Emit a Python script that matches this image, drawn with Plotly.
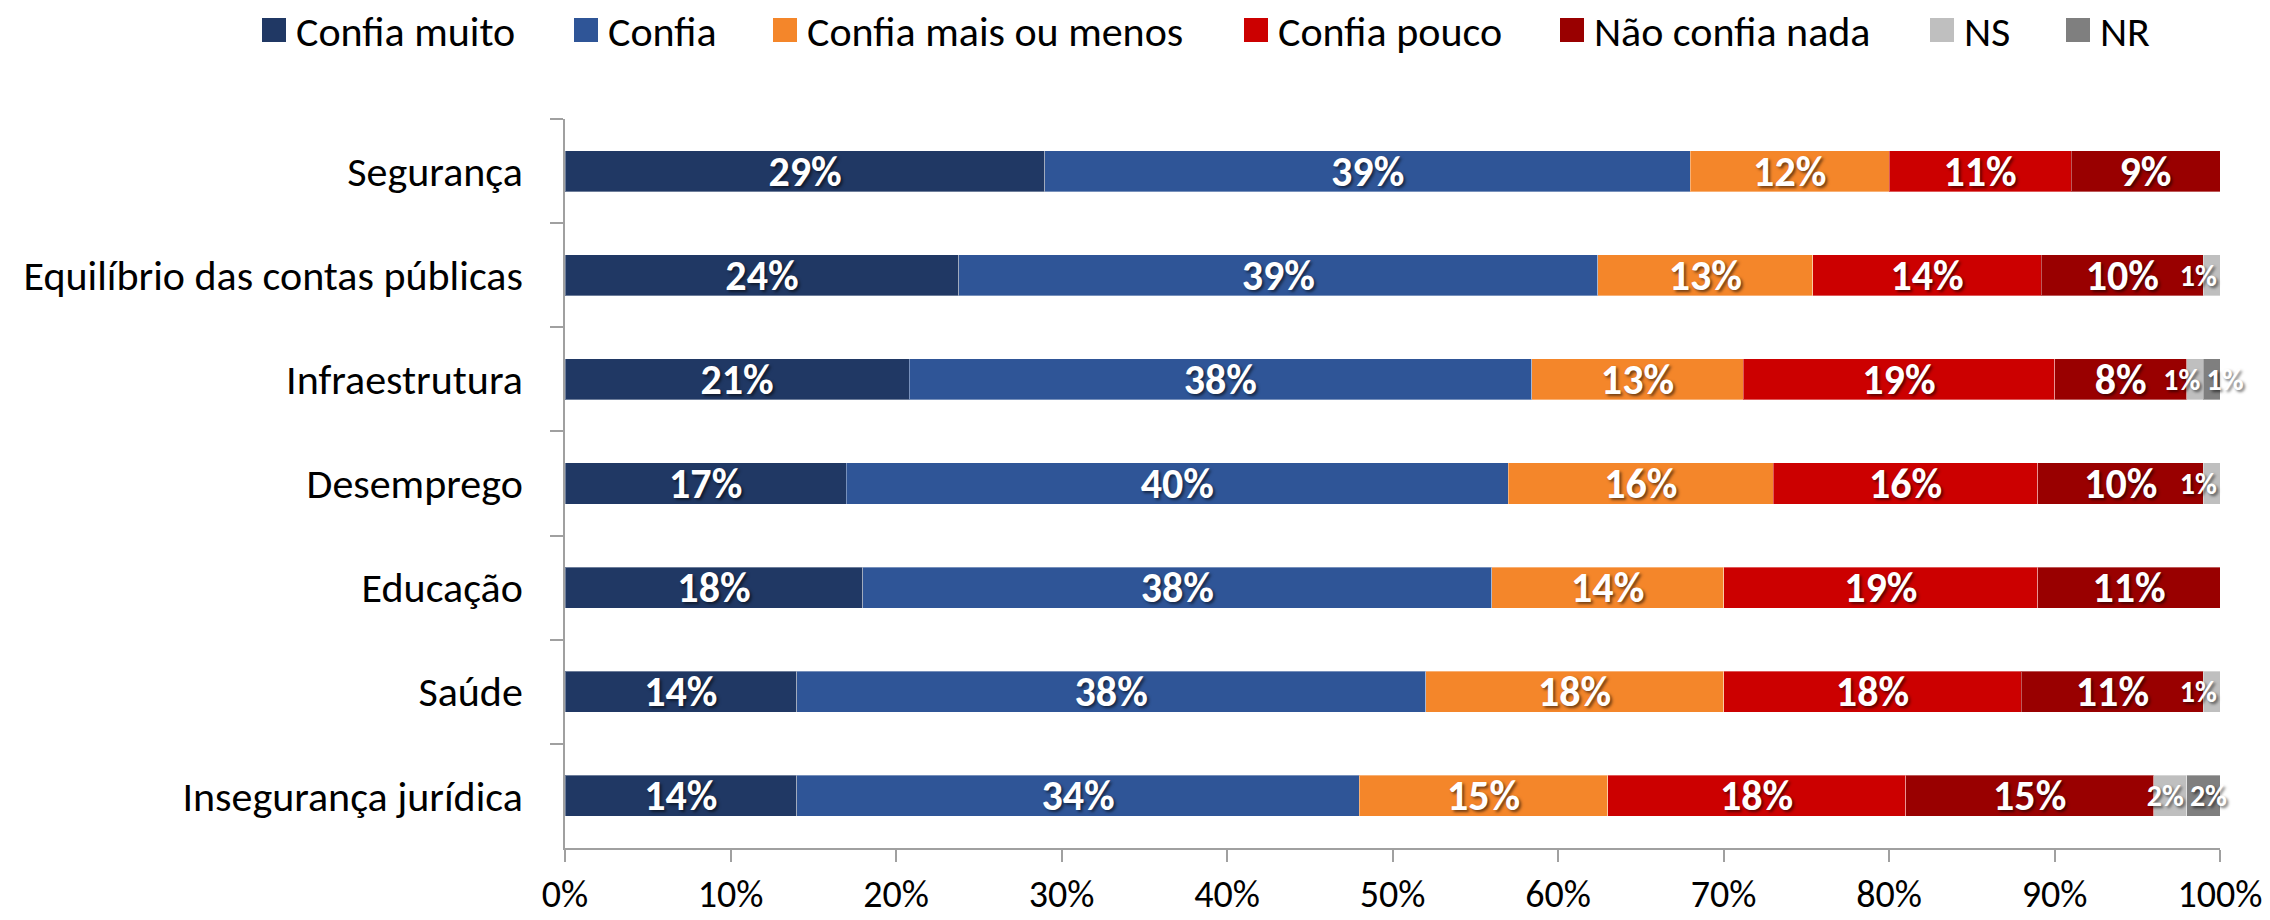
import plotly.graph_objects as go

categories = ["Segurança", "Equilíbrio das contas públicas", "Infraestrutura",
              "Desemprego", "Educação", "Saúde", "Insegurança jurídica"]

series_names = ["Confia muito", "Confia", "Confia mais ou menos", "Confia pouco",
                "Não confia nada", "NS", "NR"]

confia_muito = [29, 23.8, 20.8, 17, 18, 14, 14]
confia = [39, 38.6, 37.6, 40, 38, 38, 34]
confia_mais_ou_menos = [12, 13.0, 12.8, 16, 14, 18, 15]
confia_pouco = [11, 13.8, 18.8, 16, 19, 18, 18]
nao_confia_nada = [9, 9.8, 8.0, 10, 11, 11, 15]
ns = [None, 1.0, 1.0, 1, None, 1, 2]
nr = [None, None, 1.0, None, None, None, 2]

x_tick_values = [0, 10, 20, 30, 40, 50, 60, 70, 80, 90, 100]
x_tick_labels = ["0%", "10%", "20%", "30%", "40%", "50%", "60%", "70%", "80%", "90%", "100%"]

series_values = [confia_muito, confia, confia_mais_ou_menos, confia_pouco,
                 nao_confia_nada, ns, nr]
colors = ["#203864", "#2F5597", "#F4862A", "#CC0000", "#990000", "#BFBFBF", "#7F7F7F"]
label_sizes = [42, 42, 42, 42, 42, 30, 30]
anchors = ["middle", "middle", "middle", "middle", "middle", "end", "start"]

FONT = "Calibri, Carlito, Lato, sans-serif"

# plot-area geometry in pixels
W, H = 2270, 920
L, R, T, B = 565, 50, 119, 72
PW, PH = W - L - R, H - T - B

fig = go.Figure()
for name, vals, col, fs, anc in zip(series_names, series_values, colors, label_sizes, anchors):
    fig.add_trace(go.Bar(
        y=categories, x=vals, name=name, orientation="h",
        marker=dict(color=col, line=dict(color="rgba(255,255,255,0.35)", width=1)),
        texttemplate="%{x:.0f}%", textposition="inside", insidetextanchor=anc,
        textangle=0, constraintext="none", cliponaxis=False,
        textfont=dict(family=FONT, size=fs, color="white", weight="bold",
                      shadow="2px 2px 3px rgba(0,0,0,0.55)"),
        showlegend=False, hoverinfo="skip",
    ))

# legend drawn as shapes + annotations (positions in px)
legend_x = [262, 574, 773, 1244, 1560, 1930, 2066]
legend_yc = 30
sq = 24
def px_x(p):
    return (p - L) / PW
def px_y(p):
    return (H - B - p) / PH

for name, col, lx in zip(series_names, colors, legend_x):
    fig.add_shape(type="rect", xref="paper", yref="paper",
                  x0=px_x(lx), x1=px_x(lx + sq),
                  y0=px_y(legend_yc + sq / 2), y1=px_y(legend_yc - sq / 2),
                  fillcolor=col, line=dict(width=0))
    fig.add_annotation(xref="paper", yref="paper", x=px_x(lx + sq + 8), y=px_y(legend_yc + 1),
                       xanchor="left", yanchor="middle", showarrow=False, text=name,
                       font=dict(family=FONT, size=42, color="black"))

fig.update_layout(
    width=W, height=H, barmode="stack", bargap=0.606,
    margin=dict(l=L, r=R, t=T, b=B, autoexpand=False),
    plot_bgcolor="white", paper_bgcolor="white",
    font=dict(family=FONT, size=42, color="black"),
)
fig.update_xaxes(range=[0, 100], tickmode="array", tickvals=x_tick_values, ticktext=x_tick_labels,
                 showgrid=False, zeroline=False, showline=True, linecolor="#A0A0A0", linewidth=1.5,
                 ticks="outside", ticklen=12, tickcolor="#A0A0A0", tickwidth=1.5,
                 tickfont=dict(family=FONT, size=38, color="black"),
                 ticklabelstandoff=0, automargin=False)
fig.update_yaxes(categoryorder="array", categoryarray=categories, autorange="reversed",
                 showgrid=False, zeroline=False, showline=True, linecolor="#A0A0A0", linewidth=1.5,
                 ticks="outside", ticklen=13, tickcolor="#A0A0A0", tickwidth=1.5,
                 tickson="boundaries",
                 tickfont=dict(family=FONT, size=42, color="black"),
                 ticklabelstandoff=32, automargin=False)

fig.write_html("out.html", config={"displayModeBar": False},
               post_script="document.body.style.margin='0';document.body.style.overflow='hidden';")
